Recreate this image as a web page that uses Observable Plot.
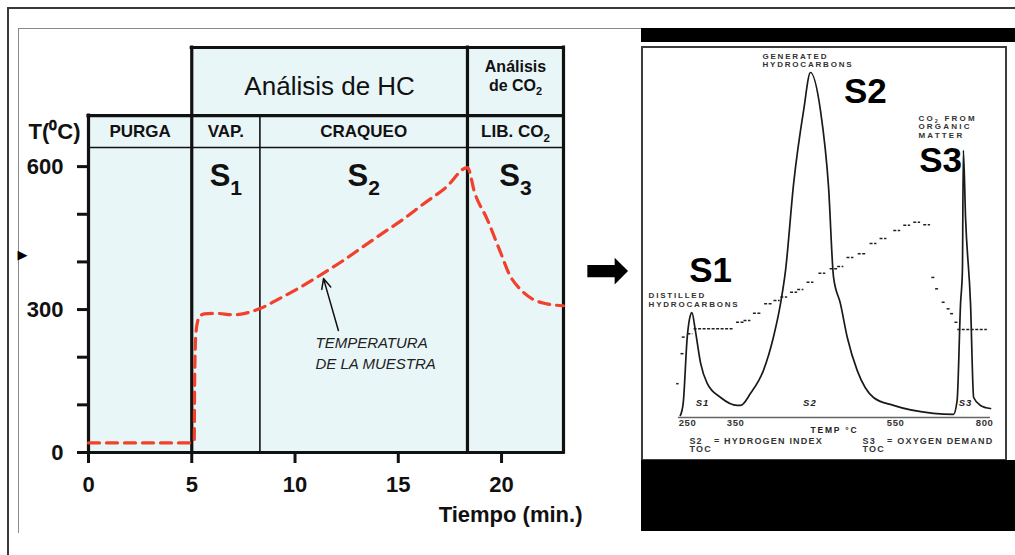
<!DOCTYPE html>
<html><head><meta charset="utf-8">
<script src="https://cdn.jsdelivr.net/npm/d3@7"></script>
<script src="https://cdn.jsdelivr.net/npm/@observablehq/plot@0.6"></script>
<style>
html,body{margin:0;padding:0;background:#fff;}
#wrap{position:relative;width:1015px;height:555px;overflow:hidden;font-family:"Liberation Sans",Arial,sans-serif;}
.abs{position:absolute;}
</style></head><body>
<div id="wrap">
  <div class="abs" style="left:7px;top:7px;width:1100px;height:700px;border-left:2px solid #3a3a3a;border-top:2px solid #3a3a3a;"></div>
  <div class="abs" style="left:18px;top:28px;width:623px;height:504px;border-left:1px solid #8a8a8a;border-top:1px solid #8a8a8a;"></div>
  <div class="abs" style="left:641px;top:28px;width:374px;height:14px;background:#000"></div>
  <div class="abs" style="left:641px;top:46px;width:366px;height:415px;border:2px solid #3c3c3c;box-sizing:border-box;background:#fff"></div>
  <div class="abs" style="left:641px;top:460px;width:374px;height:71px;background:#000"></div>
  <div class="abs" id="left" style="left:0;top:0"></div>
  <div class="abs" id="right" style="left:644px;top:48px"></div>
</div>
<script>
// ---------- Left chart data ----------
const timeTicks = [0, 5, 10, 15, 20];
const tempTicks = [0, 100, 200, 300, 400, 500, 600];
const tempLabels = [0, 300, 600];
const timeMax = 23;
const phaseNames = ["PURGA", "VAP.", "CRAQUEO", "LIB. CO₂"];
const phaseStart = [0, 5, 8.3, 18.35];
const phaseEnd = [5, 8.3, 18.35, 23];
const groupNames = ["Análisis de HC", "Análisis\nde CO₂"];
const groupStart = [5, 18.35];
const groupEnd = [18.35, 23];
const phaseRowBottom = 640, phaseRowTop = 707, groupRowTop = 850;
const signalNames = ["S₁", "S₂", "S₃"];
const signalPhase = [1, 2, 3];
const signalLevel = 580;
const curveTime = [0, 5.0, 5.12, 5.14, 5.2, 5.35, 5.6, 6.2, 7.0, 8.3, 9.2, 10.3, 11.4, 12.3, 13.3, 14.3, 15.25, 16.2, 17.3, 18.35, 18.7, 19.3, 19.95, 20.4, 20.9, 21.5, 22.2, 23];
const curveTemp = [20, 20, 25, 150, 250, 283, 291, 292, 289, 302, 322, 348, 377, 402, 432, 462, 490, 521, 556, 598, 545, 490, 420, 372, 343, 322, 312, 308];
const noteText = ["TEMPERATURA\nDE LA MUESTRA"];
const noteAt = {x: 10.99, y: 212};
const noteArrow = {x1: 12.1, y1: 256, x2: 11.38, y2: 365};
const axisTitleY = {text: "T(⁰C)", x: 0, y: 673};
const axisTitleX = {text: "Tiempo (min.)", x: 23, y: -132};
const bigArrow = {text: "➡", x: 25.1, y: 382};
const smallMark = {text: "▶", x: -3.2, y: 415};

// ---------- Right (pyrogram) data ----------
const pyroTickLabels = [250, 350, 550, 800];
const pyroTickPos = [2.9, 18.3, 69.6, 98.1];
const fidU = [0.6,1.5,2.8,3.8,4.3,5.4,7.1,9.2,13.5,18.8,19.9,23.1,27.2,30.4,32.7,34.3,36.9,40.1,42.3,45.5,48.1,49.7,51.9,54.1,57.3,62.5,68.9,81.7,88.1,89.3,90.4,91.0,91.3,92.0,93.6,94.6,96.8,100];
const fidV = [0.6,4.1,23.3,29.6,30.4,25.2,15.7,9.9,5.8,3.5,3.5,7.0,13.6,23.2,33,42.6,67.8,89,100,89,66.7,40.6,33,23.2,13.6,5.8,3.5,1.2,0.9,4.9,33,42.6,77.4,58,33,5.8,3.5,2.6];
const traceU1 = [-0.6,0.8,1.2,3.0,5.0,18.6,21.0,24.0,27.6,30.6,32.8,35.9,38.2,41.2,45.0,48.6,51.0,54.0,57.6,61.4,64.6,69.0,72.2,75.4,78.6,81.2,82.4,84.5,86.1,87.2,88.6,89.5];
const traceU2 = [0.2,1.8,2.2,4.6,17.6,21.0,23.2,26.4,30.0,32.6,35.0,38.2,40.2,43.4,47.2,51.0,53.0,56.2,60.0,63.6,66.8,71.2,74.4,77.6,80.8,82.2,83.4,85.5,87.1,88.2,90.0,99.0];
const traceV = [9.8,18.5,23.3,24.3,25.7,27.6,28.1,30.2,33,33.9,34.9,36.3,37.1,39.2,41.8,43.1,43.8,46.4,47.5,50.4,51.9,54.2,55.7,56.6,55.9,40.6,37.3,33.4,31.5,30.1,27.6,25.5];
const bigLabels = ["S1", "S2", "S3"];
const bigU = [10.3, 59.9, 84.0];
const bigV = [42.6, 94.5, 74.3];
const peakLabels = ["S1", "S2", "S3"];
const peakU = [7.7, 42.1, 92.0];
const peakV = 4.1;
const captionTexts = ["GENERATED\nHYDROCARBONS", "DISTILLED\nHYDROCARBONS"];
const captionU = [26.9, -9.6];
const captionV = [103.6, 34.2];
const co2Text = ["CO₂ FROM\nORGANIC\nMATTER"];
const co2At = {u: 76.9, v: 84.3};
const ratioTexts = ["S2   = HYDROGEN INDEX\nTOC", "S3   = OXYGEN DEMAND\nTOC"];
const ratioU = [3.5, 59.0];
const ratioV = -8.1;
const tempAxisTitle = {text: "TEMP °C", u: 50, v: -3.8};
const tickLabelV = -1.5;

// ---------- helpers ----------
function fixScripts(svg) {
  const subs = "₀₁₂₃₄₅₆₇₈₉";
  const NS = "http://www.w3.org/2000/svg";
  svg.querySelectorAll("text, tspan").forEach(el => {
    if (el.children.length) return;
    const s = el.textContent;
    if (![...s].some(c => subs.includes(c))) return;
    const holder = el.closest("[font-size]");
    const fs = holder ? parseFloat(holder.getAttribute("font-size")) : 12;
    el.textContent = "";
    let shifted = false;
    for (const run of s.match(/[₀-₉]+|[^₀-₉]+/g)) {
      const t = document.createElementNS(NS, "tspan");
      if (subs.includes(run[0])) {
        t.setAttribute("font-size", fs * 0.68);
        t.setAttribute("dy", fs * 0.28);
        t.textContent = [...run].map(c => subs.indexOf(c)).join("");
        shifted = true;
      } else {
        if (shifted) { t.setAttribute("dy", -fs * 0.28); shifted = false; }
        t.textContent = run;
      }
      el.appendChild(t);
    }
  });
}
function applySpacing(svg) {
  svg.querySelectorAll('[aria-description^="ls-"]').forEach(g => {
    const v = g.getAttribute("aria-description").slice(3);
    g.style.letterSpacing = v + "px";
    g.querySelectorAll("text").forEach(t => t.style.letterSpacing = v + "px");
  });
}

// ---------- Left plot ----------
const FILL = "#e9f6f8", INK = "#111";
const phaseIdx = phaseNames.map((_, i) => i);
const groupIdx = groupNames.map((_, i) => i);
const bounds = [...phaseStart, phaseEnd[phaseEnd.length - 1]];
const groupBounds = new Set([...groupStart, ...groupEnd]);
const thickV = bounds.filter(b => groupBounds.has(b) || b === 0).map(b => ({x: b, top: groupBounds.has(b) ? groupRowTop : phaseRowTop}));
const thinV = bounds.filter(b => !(groupBounds.has(b) || b === 0)).map(b => ({x: b, top: phaseRowTop}));
const thickH = [{y: 0, x1: 0, x2: timeMax}, {y: phaseRowTop, x1: 0, x2: timeMax}, {y: groupRowTop, x1: groupStart[0], x2: timeMax}];
const thinH = [{y: phaseRowBottom, x1: 0, x2: timeMax}];
const curve = curveTime.map((t, i) => ({t, T: curveTemp[i]}));

const left = Plot.plot({
  width: 640, height: 555,
  marginLeft: 88, marginRight: 77, marginTop: 47, marginBottom: 103,
  x: {domain: [0, timeMax]},
  y: {domain: [0, groupRowTop]},
  style: {background: "transparent", fontFamily: "Liberation Sans, Arial, sans-serif", color: INK, overflow: "visible"},
  marks: [
    Plot.rect(phaseIdx, {x1: i => phaseStart[i], x2: i => phaseEnd[i], y1: 0, y2: phaseRowTop, fill: FILL}),
    Plot.rect(groupIdx, {x1: i => groupStart[i], x2: i => groupEnd[i], y1: phaseRowTop, y2: groupRowTop, fill: FILL}),
    Plot.ruleX(thinV, {x: "x", y1: 0, y2: "top", stroke: INK, strokeWidth: 1.6}),
    Plot.ruleY(thinH, {y: "y", x1: "x1", x2: "x2", stroke: INK, strokeWidth: 1.6}),
    Plot.ruleX(thickV, {x: "x", y1: 0, y2: "top", stroke: INK, strokeWidth: 3.2, strokeLinecap: "square"}),
    Plot.ruleY(thickH, {y: "y", x1: "x1", x2: "x2", stroke: INK, strokeWidth: 3.2, strokeLinecap: "square"}),
    Plot.axisX({ticks: timeTicks, tickSize: 11, tickPadding: 13, strokeWidth: 3, fontSize: 22, fontWeight: "bold", label: null}),
    Plot.axisY({ticks: tempTicks, tickFormat: d => tempLabels.includes(d) ? String(d) : "", tickSize: 11, tickPadding: 14, strokeWidth: 3, fontSize: 22, fontWeight: "bold", label: null}),
    Plot.text(phaseNames, {x: (d, i) => (phaseStart[i] + phaseEnd[i]) / 2, y: (phaseRowBottom + phaseRowTop) / 2, fontSize: 17, fontWeight: "bold", fill: INK}),
    Plot.text([groupNames[0]], {x: (groupStart[0] + groupEnd[0]) / 2, y: (phaseRowTop + groupRowTop) / 2, dy: 5, fontSize: 26, fontWeight: "normal", fill: INK}),
    Plot.text([groupNames[1]], {x: (groupStart[1] + groupEnd[1]) / 2, y: (phaseRowTop + groupRowTop) / 2, dy: -6, fontSize: 16, lineHeight: 1.15, fontWeight: "bold", fill: INK}),
    Plot.text(signalNames, {x: (d, i) => (phaseStart[signalPhase[i]] + phaseEnd[signalPhase[i]]) / 2, y: signalLevel, fontSize: 31, fontWeight: "bold", fill: INK}),
    Plot.line(curve, {x: "t", y: "T", curve: "monotone-x", stroke: "#f2402a", strokeWidth: 3.2, strokeDasharray: "11 7"}),
    Plot.arrow([noteArrow], {x1: "x1", y1: "y1", x2: "x2", y2: "y2", stroke: INK, strokeWidth: 1.5, headLength: 11, headAngle: 50}),
    Plot.text(noteText, {x: noteAt.x, y: noteAt.y, textAnchor: "start", fontSize: 15, fontStyle: "italic", fontWeight: "normal", lineHeight: 1.45, fill: "#222"}),
    Plot.text([axisTitleY.text], {x: axisTitleY.x, y: axisTitleY.y, textAnchor: "end", dx: -8, fontSize: 22, fontWeight: "bold", fill: INK}),
    Plot.text([axisTitleX.text], {x: axisTitleX.x, y: axisTitleX.y, textAnchor: "end", dx: 19, fontSize: 22, fontWeight: "bold", fill: INK}),
    Plot.text([bigArrow.text], {x: bigArrow.x, y: bigArrow.y, fontSize: 54, fontFamily: "DejaVu Sans", fill: "#000"}),
    Plot.text([smallMark.text], {x: smallMark.x, y: smallMark.y, fontSize: 13, fontFamily: "DejaVu Sans", fill: "#000"})
  ]
});
fixScripts(left);
document.getElementById("left").appendChild(left);

// ---------- Right plot (pyrogram) ----------
const fid = fidU.map((u, i) => ({u, v: fidV[i]}));
const trace = traceV.map((v, i) => ({u1: traceU1[i], u2: traceU2[i], v}));
const right = Plot.plot({
  width: 363, height: 412,
  marginLeft: 34, marginRight: 17, marginTop: 24, marginBottom: 43,
  x: {domain: [0, 100], axis: null},
  y: {domain: [0, 100], axis: null},
  style: {background: "transparent", fontFamily: "Liberation Sans, Arial, sans-serif", color: "#111", overflow: "visible"},
  marks: [
    Plot.ruleY([0], {stroke: "#666", strokeWidth: 1.5}),
    Plot.ruleY(trace, {y: "v", x1: "u1", x2: "u2", stroke: "#222", strokeWidth: 1.5, strokeDasharray: "3 1.5"}),
    Plot.line(fid, {x: "u", y: "v", curve: "monotone-x", stroke: "#1a1a1a", strokeWidth: 1.7}),
    Plot.text(pyroTickLabels, {x: (d, i) => pyroTickPos[i], y: tickLabelV, fontSize: 9.5, fontWeight: "bold", fill: "#333", ariaDescription: "ls-0.6"}),
    Plot.text([tempAxisTitle.text], {x: tempAxisTitle.u, y: tempAxisTitle.v, fontSize: 8.5, fontWeight: "bold", fill: "#222", ariaDescription: "ls-1.8"}),
    Plot.text(ratioTexts, {x: (d, i) => ratioU[i], y: ratioV, textAnchor: "start", fontSize: 9, lineHeight: 0.95, fontWeight: "bold", fill: "#333", ariaDescription: "ls-1.2"}),
    Plot.text(captionTexts, {x: (d, i) => captionU[i], y: (d, i) => captionV[i], textAnchor: "start", fontSize: 8, lineHeight: 1.1, fontWeight: "bold", fill: "#333", ariaDescription: "ls-1.8"}),
    Plot.text(co2Text, {x: co2At.u, y: co2At.v, textAnchor: "start", fontSize: 8, lineHeight: 1.05, fontWeight: "bold", fill: "#333", ariaDescription: "ls-2.2"}),
    Plot.text(bigLabels, {x: (d, i) => bigU[i], y: (d, i) => bigV[i], fontSize: 35, fontWeight: "bold", fill: "#000"}),
    Plot.text(peakLabels, {x: (d, i) => peakU[i], y: peakV, fontSize: 9.5, fontWeight: "bold", fontStyle: "italic", fill: "#222", ariaDescription: "ls-1"})
  ]
});
fixScripts(right);
applySpacing(right);
document.getElementById("right").appendChild(right);
</script>
</body></html>
